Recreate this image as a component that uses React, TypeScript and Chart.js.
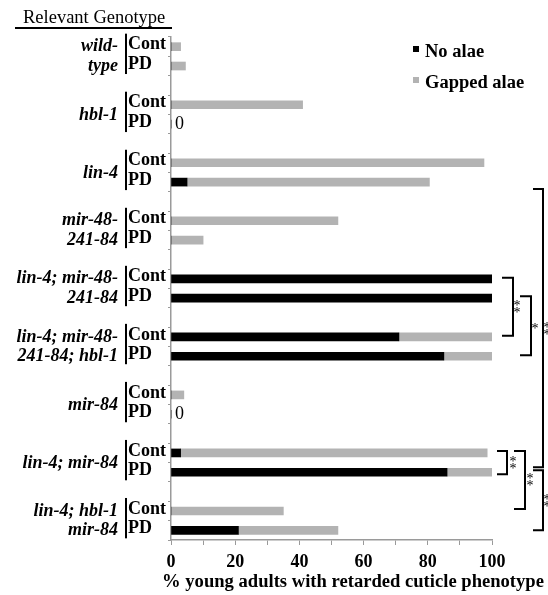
import React, { useEffect, useRef } from "react";
import { Chart, registerables } from "chart.js";

Chart.register(...registerables);

const FONT = '"Liberation Serif", "Times New Roman", serif';

// ---- data ----
const genotypes: string[][] = [
  ["wild-", "type"],
  ["hbl-1"],
  ["lin-4"],
  ["mir-48-", "241-84"],
  ["lin-4; mir-48-", "241-84"],
  ["lin-4; mir-48-", "241-84; hbl-1"],
  ["mir-84"],
  ["lin-4; mir-84"],
  ["lin-4; hbl-1", "mir-84"],
];
const conditions = ["Cont", "PD"];
const noAlae = [0, 0, 0, 0, 0, 5, 0, 0, 100, 100, 71, 85, 0, 0, 3, 86, 0, 21];
const gappedAlae = [3, 4.5, 41, 0, 97.5, 75.5, 52, 10, 0, 0, 29, 15, 4, 0, 95.5, 14, 35, 31];
const seriesNames = ["No alae", "Gapped alae"];
const xTicks = [0, 20, 40, 60, 80, 100];
const headerText = "Relevant Genotype";
const axisTitle = "% young adults with retarded cuticle phenotype";
// significance brackets: [group, condition] from / to, label
const sigFrom = [[4, 0], [4, 1], [2, 1], [7, 0], [7, 0], [7, 1]];
const sigTo = [[5, 0], [5, 1], [7, 1], [7, 1], [8, 0], [8, 1]];
const sigLabels = ["**", "*", "**", "**", "**", "**"];

export default function App() {
  const ref = useRef<HTMLCanvasElement>(null);

  useEffect(() => {
    const labels: string[] = [];
    const black: (number | null)[] = [];
    const gray: (number | null)[] = [];
    const rowIndex: number[][] = [];
    genotypes.forEach((g, gi) => {
      rowIndex.push([]);
      conditions.forEach((c, ci) => {
        rowIndex[gi].push(labels.length);
        labels.push(c);
        black.push(noAlae[gi * 2 + ci]);
        gray.push(gappedAlae[gi * 2 + ci]);
      });
      if (gi < genotypes.length - 1) {
        labels.push("");
        black.push(null);
        gray.push(null);
      }
    });

    // bracket layout (pixel offsets from the x=100 position, and vertical insets)
    const bracketLayout = [
      { x0: 10, x1: 21, d0: -1, d1: -1, lx: 25 },
      { x0: 28, x1: 39, d0: -2, d1: -1, lx: 43 },
      { x0: 41, x1: 51, d0: 7, d1: -5, lx: 55 },
      { x0: 5, x1: 15, d0: -2, d1: 2, lx: 21 },
      { x0: 22, x1: 33, d0: -2, d1: -2, lx: 38 },
      { x0: 41, x1: 51, d0: -2, d1: 0, lx: 55 },
    ];

    const colors = ["#000000", "#b3b3b3"];

    const overlay = {
      id: "overlay",
      afterDraw(chart: any) {
        const ctx = chart.ctx as CanvasRenderingContext2D;
        const xs = chart.scales.x;
        const ys = chart.scales.y;
        ctx.save();
        ctx.fillStyle = "#000";
        ctx.strokeStyle = "#000";

        // header
        ctx.font = `18.5px ${FONT}`;
        ctx.textAlign = "left";
        ctx.textBaseline = "middle";
        ctx.fillText(headerText, 23, 18);
        ctx.fillRect(15, 27, 157, 2);

        // genotype labels + condition labels
        genotypes.forEach((lines, gi) => {
          const yC = ys.getPixelForValue(rowIndex[gi][0]);
          const yP = ys.getPixelForValue(rowIndex[gi][1]);
          ctx.fillRect(125, yC - 13, 2, yP - yC + 21);
          ctx.font = `italic bold 18px ${FONT}`;
          ctx.textAlign = "right";
          ctx.textBaseline = "middle";
          if (lines.length === 2) {
            ctx.fillText(lines[0], 118, yC);
            ctx.fillText(lines[1], 118, yP);
          } else {
            ctx.fillText(lines[0], 118, (yC + yP) / 2 + 1);
          }
          ctx.font = `bold 18px ${FONT}`;
          ctx.textAlign = "left";
          conditions.forEach((c, ci) => {
            const y = ci === 0 ? yC : yP;
            ctx.fillText(c, 128, y - 2);
            const idx = gi * 2 + ci;
            if (noAlae[idx] + gappedAlae[idx] === 0) {
              ctx.font = `18px ${FONT}`;
              ctx.fillText("0", xs.getPixelForValue(0) + 4, y);
              ctx.font = `bold 18px ${FONT}`;
            }
          });
        });

        // legend
        seriesNames.forEach((name, i) => {
          const y = 52 + i * 31;
          ctx.fillStyle = colors[i];
          ctx.fillRect(413, y - 6, 6, 6);
          ctx.fillStyle = "#000";
          ctx.font = `bold 18.5px ${FONT}`;
          ctx.textAlign = "left";
          ctx.textBaseline = "middle";
          ctx.fillText(name, 425, y);
        });

        // significance brackets
        const x100 = xs.getPixelForValue(100);
        ctx.lineWidth = 2;
        ctx.font = `14px ${FONT}`;
        ctx.textAlign = "center";
        ctx.textBaseline = "alphabetic";
        const m = ctx.measureText("*");
        const off = (m.actualBoundingBoxAscent - m.actualBoundingBoxDescent) / 2;
        sigFrom.forEach((f, i) => {
          const t = sigTo[i];
          const L = bracketLayout[i];
          const y0 = ys.getPixelForValue(rowIndex[f[0]][f[1]]) + L.d0;
          const y1 = ys.getPixelForValue(rowIndex[t[0]][t[1]]) + L.d1;
          const a = x100 + L.x0;
          const b = x100 + L.x1;
          ctx.beginPath();
          ctx.moveTo(a, y0);
          ctx.lineTo(b, y0);
          ctx.lineTo(b, y1);
          ctx.lineTo(a, y1);
          ctx.stroke();
          const mid = (y0 + y1) / 2;
          const n = sigLabels[i].length;
          for (let k = 0; k < n; k++) {
            const yy = mid + (k - (n - 1) / 2) * 7;
            ctx.fillText("*", x100 + L.lx, yy + off);
          }
        });

        // axis title
        ctx.font = `bold 18.6px ${FONT}`;
        ctx.textAlign = "center";
        ctx.textBaseline = "middle";
        ctx.fillText(axisTitle, 353, 582);
        ctx.restore();
      },
    };

    const chart = new Chart(ref.current as HTMLCanvasElement, {
      type: "bar",
      data: {
        labels,
        datasets: seriesNames.map((name, i) => ({
          label: name,
          data: i === 0 ? black : gray,
          backgroundColor: colors[i],
          barThickness: 8,
          borderWidth: 0,
        })),
      },
      options: {
        indexAxis: "y",
        responsive: false,
        animation: false,
        layout: { padding: { left: 0, right: 56, top: 37, bottom: 0 } },
        plugins: {
          legend: { display: false },
          tooltip: { enabled: false },
          title: { display: false },
        },
        scales: {
          x: {
            stacked: true,
            min: 0,
            max: 100,
            ticks: {
              stepSize: 10,
              autoSkip: false,
              maxRotation: 0,
              padding: 7,
              color: "#000",
              font: { family: FONT, size: 18, weight: "bold" },
              callback: (v: any) => (xTicks.includes(Number(v)) ? String(v) : ""),
            },
            grid: { drawOnChartArea: false, drawTicks: true, tickLength: 5, color: "#9a9a9a" },
            border: { color: "#9a9a9a", width: 1.5 },
            afterFit: (s: any) => {
              s.height = 55;
            },
          } as any,
          y: {
            stacked: true,
            ticks: { display: false },
            grid: { drawOnChartArea: false, drawTicks: true, tickLength: 3, color: "#9a9a9a", offset: true },
            border: { color: "#9a9a9a", width: 1.5 },
            afterFit: (s: any) => {
              s.width = 171;
            },
          } as any,
        },
      },
      plugins: [overlay],
    } as any);

    return () => chart.destroy();
  }, []);

  return (
    <div style={{ position: "absolute", left: 0, top: 0, width: 548, height: 595, background: "#fff" }}>
      <canvas ref={ref} width={548} height={595} style={{ display: "block" }} />
    </div>
  );
}
